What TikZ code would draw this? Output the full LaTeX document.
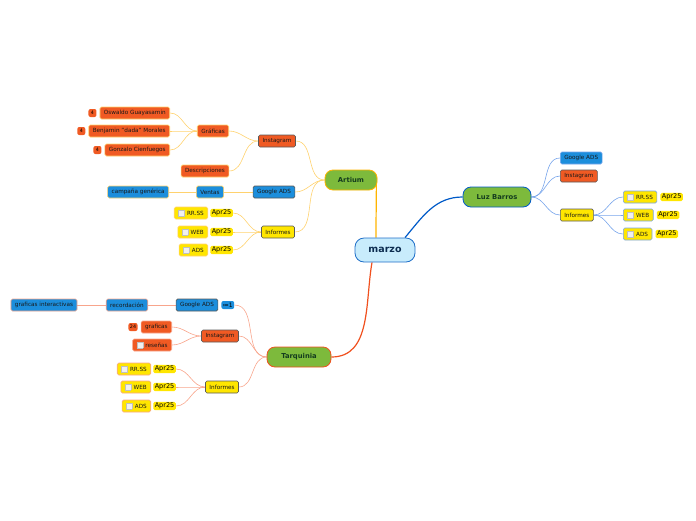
\documentclass[tikz,border=0pt]{standalone}
\usepackage{fontspec}
\setmainfont{DejaVu Sans}
\usetikzlibrary{backgrounds}
\definecolor{orangebox}{RGB}{240,90,35}
\definecolor{bluebox}{RGB}{28,142,220}
\definecolor{yellowbox}{RGB}{255,230,0}
\definecolor{greenbox}{RGB}{125,186,60}
\definecolor{rootfill}{RGB}{200,236,252}
\definecolor{rootline}{RGB}{30,110,200}
\definecolor{artmain}{RGB}{255,180,0}
\definecolor{artline}{RGB}{255,210,110}
\definecolor{luzmain}{RGB}{0,90,200}
\definecolor{luzline}{RGB}{120,165,235}
\definecolor{tarmain}{RGB}{240,80,30}
\definecolor{tarline}{RGB}{248,165,140}
\definecolor{darkgreen}{RGB}{20,60,30}
\newcommand{\chkbox}{{\setlength\fboxsep{0pt}\setlength\fboxrule{0.4pt}\fcolorbox{gray!50}{gray!12}{\rule{0pt}{5.5pt}\hspace{5.5pt}}}\hspace{2.5pt}}
\tikzset{
  topic/.style={draw=#1,rounded corners=1.5pt,line width=0.6pt,inner xsep=4pt,inner ysep=0pt,
    minimum height=12pt,font=\fontsize{5.7}{6}\selectfont,text=black!90},
  orangetopic/.style={topic=#1,fill=orangebox},
  bluetopic/.style={topic=#1,fill=bluebox},
  yellowtopic/.style={topic=#1,fill=yellowbox},
  maintopic/.style={draw=#1,fill=greenbox,rounded corners=8pt,line width=0.8pt,minimum height=20pt,
    font=\bfseries\fontsize{6.8}{7}\selectfont,text=darkgreen},
  badge/.style={fill=#1,rounded corners=2pt,inner sep=1.5pt,minimum height=8pt,minimum width=8pt,font=\fontsize{4.8}{5}\selectfont},
  datelbl/.style={fill=yellowbox,rounded corners=1.5pt,inner xsep=1.5pt,inner ysep=1pt,font=\fontsize{6.5}{7}\selectfont},
  link/.style={draw=#1,line width=0.6pt},
}
\begin{document}
\begin{tikzpicture}[x=1pt,y=-1pt]
\useasboundingbox (0,0) rectangle (696,520);
% centro
\node[draw=rootline,fill=rootfill,rounded corners=9pt,line width=0.8pt,minimum width=60pt,minimum height=24pt,
  font=\bfseries\fontsize{9.5}{10}\selectfont,text=rootline!40!black] (marzo) at (385,250) {marzo};
% Artium
\node[maintopic=artmain,minimum width=52pt] (art) at (351,180) {Artium};
\node[orangetopic=gray!70!black] (artIg) at (277,141) {Instagram};
\node[bluetopic=gray!70!black] (artGa) at (274,192) {Google ADS};
\node[yellowtopic=gray!70!black] (artInf) at (278,232) {Informes};
\node[orangetopic=artline] (artGraf) at (213,131) {Gráficas};
\node[orangetopic=artline] (artDesc) at (205,171) {Descripciones};
\node[orangetopic=artline,anchor=east] (osw) at (170,113) {Oswaldo Guayasamin};
\node[orangetopic=artline,anchor=east] (ben) at (170,131) {Benjamin "dada" Morales};
\node[orangetopic=artline,anchor=east] (gon) at (170,150) {Gonzalo Cienfuegos};
\foreach \Kid in {osw,ben,gon}
{
	\node[badge=orangebox,anchor=east] (\Kid B) at ([xshift=-3pt]\Kid.west) {4};
}
\node[bluetopic=artline] (ventas) at (210,192) {Ventas};
\node[bluetopic=artline,anchor=east] (campana) at (169,192) {campaña genérica};
\foreach \Kid/\Yc/\Texto in {artRr/213/RR.SS,artWeb/232/WEB,artAds/250/ADS}
{
	\node[datelbl,anchor=east] (\Kid D) at (233,\Yc) {Apr25};
	\node[yellowtopic=artline,anchor=east] (\Kid) at ([xshift=-2pt]\Kid D.west) {\chkbox\Texto};
}
% Luz Barros
\node[maintopic=luzmain,minimum width=68pt] (luz) at (497,197) {Luz Barros};
\node[bluetopic=luzline,anchor=west] (luzGa) at (560,158) {Google ADS};
\node[orangetopic=gray!70!black,anchor=west] (luzIg) at (560,176) {Instagram};
\node[yellowtopic=gray!70!black,anchor=west] (luzInf) at (560,215) {Informes};
\foreach \Kid/\Yc/\Texto in {luzRr/197/RR.SS,luzWeb/215/WEB,luzAds/234/ADS}
{
	\node[yellowtopic=luzline,anchor=west] (\Kid) at (623,\Yc) {\chkbox\Texto};
	\node[datelbl,anchor=west] (\Kid D) at ([xshift=3pt]\Kid.east) {Apr25};
}
% Tarquinia
\node[maintopic=tarmain,minimum width=64pt] (tar) at (299,357) {Tarquinia};
\node[bluetopic=gray!70!black] (tarGa) at (197,305) {Google ADS};
\node[badge=bluebox,anchor=west,font=\fontsize{6}{6}\selectfont,inner ysep=0.5pt] (tarGaB) at ([xshift=3pt]tarGa.east) {≔1};
\node[orangetopic=gray!70!black] (tarIg) at (220,336) {Instagram};
\node[yellowtopic=gray!70!black] (tarInf) at (222,387) {Informes};
\node[bluetopic=tarline] (recor) at (127,305) {recordación};
\node[bluetopic=tarline] (grafint) at (44,305) {graficas interactivas};
\node[orangetopic=tarline,anchor=east] (graf) at (172,327) {graficas};
\node[badge=orangebox,anchor=east] (grafB) at ([xshift=-3pt]graf.west) {24};
\node[orangetopic=tarline,anchor=east] (resen) at (172,345) {\chkbox reseñas};
\foreach \Kid/\Yc/\Texto in {tarRr/369/RR.SS,tarWeb/387/WEB,tarAds/406/ADS}
{
	\node[datelbl,anchor=east] (\Kid D) at (176,\Yc) {Apr25};
	\node[yellowtopic=tarline,anchor=east] (\Kid) at ([xshift=-2pt]\Kid D.west) {\chkbox\Texto};
}
% conectores
\begin{pgfonlayer}{background}
	\draw[link=artmain,line width=1.2pt] ([xshift=-9pt]marzo.north) to[out=90,in=-90] ([xshift=-1pt,yshift=4pt]art.east);
	\draw[link=luzmain,line width=1.2pt] ([xshift=20pt]marzo.north) to[out=50,in=180] (luz.west);
	\draw[link=tarmain,line width=1.2pt] ([xshift=-13pt]marzo.south) to[out=-100,in=0] (tar.east);
	\foreach \Kid in {artIg,artGa,artInf}
		\draw[link=artline] (art.west) to[out=180,in=0] (\Kid.east);
	\foreach \Kid in {artGraf,artDesc}
		\draw[link=artline] (artIg.west) to[out=180,in=0] (\Kid.east);
	\foreach \Kid in {osw,ben,gon}
		\draw[link=artline] (artGraf.west) to[out=180,in=0] (\Kid.east);
	\draw[link=artline] (artGa.west) -- (ventas.east);
	\draw[link=artline] (ventas.west) -- (campana.east);
	\foreach \Kid in {artRr,artWeb,artAds}
		\draw[link=artline] (artInf.west) to[out=180,in=0] (\Kid D.east);
	\foreach \Kid in {luzGa,luzIg,luzInf}
		\draw[link=luzline] (luz.east) to[out=0,in=180] (\Kid.west);
	\foreach \Kid in {luzRr,luzWeb,luzAds}
		\draw[link=luzline] (luzInf.east) to[out=0,in=180] (\Kid.west);
	\foreach \Kid in {tarGaB,tarIg,tarInf}
		\draw[link=tarline] (tar.west) to[out=180,in=0] (\Kid.east);
	\draw[link=tarline] (tarGa.west) -- (recor.east);
	\draw[link=tarline] (recor.west) -- (grafint.east);
	\foreach \Kid in {graf,resen}
		\draw[link=tarline] (tarIg.west) to[out=180,in=0] (\Kid.east);
	\foreach \Kid in {tarRr,tarWeb,tarAds}
		\draw[link=tarline] (tarInf.west) to[out=180,in=0] (\Kid D.east);
\end{pgfonlayer}
\end{tikzpicture}
\end{document}
